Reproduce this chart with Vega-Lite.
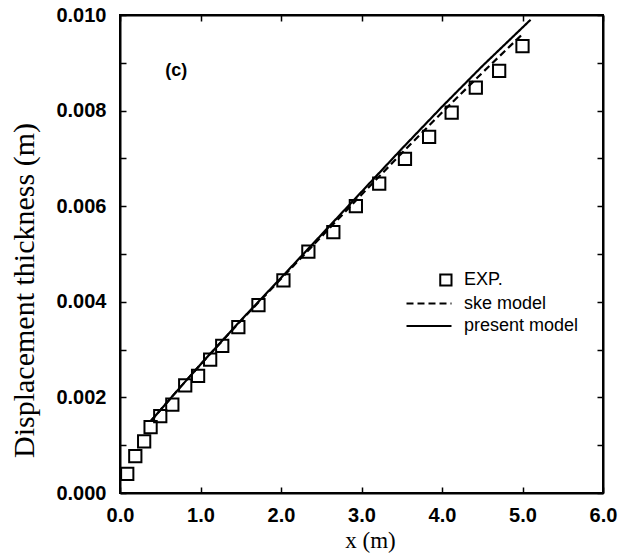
{
  "$schema": "https://vega.github.io/schema/vega-lite/v6.json",
  "width": 483,
  "height": 478,
  "autosize": {"type": "none"},
  "padding": {"left": 120, "top": 15, "right": 23, "bottom": 64},
  "background": "white",
  "config": {
    "view": {"stroke": "black", "strokeWidth": 2},
    "axis": {
      "grid": false,
      "domainColor": "black",
      "domainWidth": 2,
      "tickColor": "black",
      "tickWidth": 1.5,
      "tickSize": -6,
      "labelFlush": false,
      "labelColor": "black",
      "labelFont": "Liberation Sans",
      "labelFontWeight": "bold",
      "labelFontSize": 20,
      "titleFont": "Liberation Serif",
      "titleFontWeight": "normal",
      "titleColor": "black"
    }
  },
  "datasets": {
    "exp": [
      {"x": 0.09, "y": 0.00040}, {"x": 0.19, "y": 0.00077}, {"x": 0.30, "y": 0.00108},
      {"x": 0.38, "y": 0.00138}, {"x": 0.50, "y": 0.00161}, {"x": 0.65, "y": 0.00185},
      {"x": 0.81, "y": 0.00225}, {"x": 0.97, "y": 0.00245}, {"x": 1.12, "y": 0.00279},
      {"x": 1.27, "y": 0.00308}, {"x": 1.47, "y": 0.00347}, {"x": 1.72, "y": 0.00393},
      {"x": 2.03, "y": 0.00445}, {"x": 2.34, "y": 0.00505}, {"x": 2.65, "y": 0.00546},
      {"x": 2.93, "y": 0.00600}, {"x": 3.22, "y": 0.00647}, {"x": 3.54, "y": 0.00699},
      {"x": 3.84, "y": 0.00745}, {"x": 4.12, "y": 0.00796}, {"x": 4.42, "y": 0.00848},
      {"x": 4.71, "y": 0.00883}, {"x": 5.00, "y": 0.00935}
    ],
    "model": [
      {"series": "ske model", "x": 0.38, "y": 0.00150},
      {"series": "ske model", "x": 0.70, "y": 0.00212},
      {"series": "ske model", "x": 1.00, "y": 0.00269},
      {"series": "ske model", "x": 1.50, "y": 0.00360},
      {"series": "ske model", "x": 2.00, "y": 0.00448},
      {"series": "ske model", "x": 2.50, "y": 0.00536},
      {"series": "ske model", "x": 3.00, "y": 0.00624},
      {"series": "ske model", "x": 3.50, "y": 0.00711},
      {"series": "ske model", "x": 4.00, "y": 0.00796},
      {"series": "ske model", "x": 4.50, "y": 0.00879},
      {"series": "ske model", "x": 5.00, "y": 0.00960},
      {"series": "present model", "x": 0.38, "y": 0.00150},
      {"series": "present model", "x": 0.70, "y": 0.00212},
      {"series": "present model", "x": 1.00, "y": 0.00269},
      {"series": "present model", "x": 1.50, "y": 0.00361},
      {"series": "present model", "x": 2.00, "y": 0.00450},
      {"series": "present model", "x": 2.50, "y": 0.00540},
      {"series": "present model", "x": 3.00, "y": 0.00630},
      {"series": "present model", "x": 3.50, "y": 0.00720},
      {"series": "present model", "x": 4.00, "y": 0.00808},
      {"series": "present model", "x": 4.50, "y": 0.00893},
      {"series": "present model", "x": 5.10, "y": 0.00990}
    ],
    "note": [{"label": "(c)", "x": 0.70, "y": 0.00882}]
  },
  "layer": [
    {
      "data": {"name": "model"},
      "mark": {"type": "line", "color": "black", "strokeWidth": 2.2},
      "encoding": {
        "x": {
          "field": "x", "type": "quantitative",
          "scale": {"domain": [0, 6], "nice": false, "zero": false},
          "axis": {
            "orient": "bottom",
            "values": [0, 1, 2, 3, 4, 5, 6],
            "format": ".1f",
            "labelPadding": 18,
            "title": "x (m)",
            "titleFontSize": 23,
            "titleX": 250,
            "titleY": 54,
            "titleAlign": "center",
            "titleBaseline": "alphabetic"
          }
        },
        "y": {
          "field": "y", "type": "quantitative",
          "scale": {"domain": [0, 0.01], "nice": false, "zero": false},
          "axis": {
            "orient": "left",
            "values": [0, 0.001, 0.002, 0.003, 0.004, 0.005, 0.006, 0.007, 0.008, 0.009, 0.01],
            "labelExpr": "round(datum.value*1000) % 2 == 0 ? format(datum.value, '.3f') : ''",
            "labelPadding": 20,
            "title": "Displacement thickness (m)",
            "titleFontSize": 30,
            "titleAngle": -90,
            "titleX": -87,
            "titleY": 275,
            "titleAlign": "center",
            "titleBaseline": "alphabetic"
          }
        },
        "strokeDash": {
          "field": "series", "type": "nominal",
          "scale": {"domain": ["EXP.", "ske model", "present model"], "range": [[1, 0], [7, 4], [1, 0]]},
          "legend": {
            "title": null,
            "orient": "none",
            "legendX": 300,
            "legendY": 256,
            "padding": 0,
            "symbolSize": 100,
            "symbolStrokeWidth": 2,
            "symbolStrokeColor": "black",
            "labelOffset": 26,
            "labelFont": "Liberation Sans",
            "labelFontSize": 18,
            "labelColor": "black",
            "rowPadding": 4.5,
            "encode": {
              "symbols": {
                "update": {
                  "shape": {"signal": "datum.value === 'EXP.' ? 'M 2.25 -1.1 H 4.5 V 1.1 H 2.25 Z' : 'M -4.5 0 H 4.5'"},
                  "fill": {"value": "transparent"},
                  "stroke": {"value": "black"},
                  "strokeWidth": {"value": 2}
                }
              }
            }
          }
        }
      }
    },
    {
      "data": {"name": "exp"},
      "mark": {"type": "point", "shape": "square", "filled": false, "size": 150, "stroke": "black", "strokeWidth": 2, "opacity": 1},
      "encoding": {
        "x": {"field": "x", "type": "quantitative", "axis": null},
        "y": {"field": "y", "type": "quantitative", "axis": null}
      }
    },
    {
      "data": {"name": "note"},
      "mark": {"type": "text", "font": "Liberation Sans", "fontWeight": "bold", "fontSize": 18, "color": "black"},
      "encoding": {
        "x": {
          "field": "x", "type": "quantitative",
          "axis": {"orient": "top", "values": [0, 1, 2, 3, 4, 5, 6], "labels": false, "title": null}
        },
        "y": {
          "field": "y", "type": "quantitative",
          "axis": {"orient": "right", "values": [0, 0.001, 0.002, 0.003, 0.004, 0.005, 0.006, 0.007, 0.008, 0.009, 0.01], "labels": false, "title": null}
        },
        "text": {"field": "label"}
      }
    }
  ],
  "resolve": {"axis": {"x": "independent", "y": "independent"}}
}
